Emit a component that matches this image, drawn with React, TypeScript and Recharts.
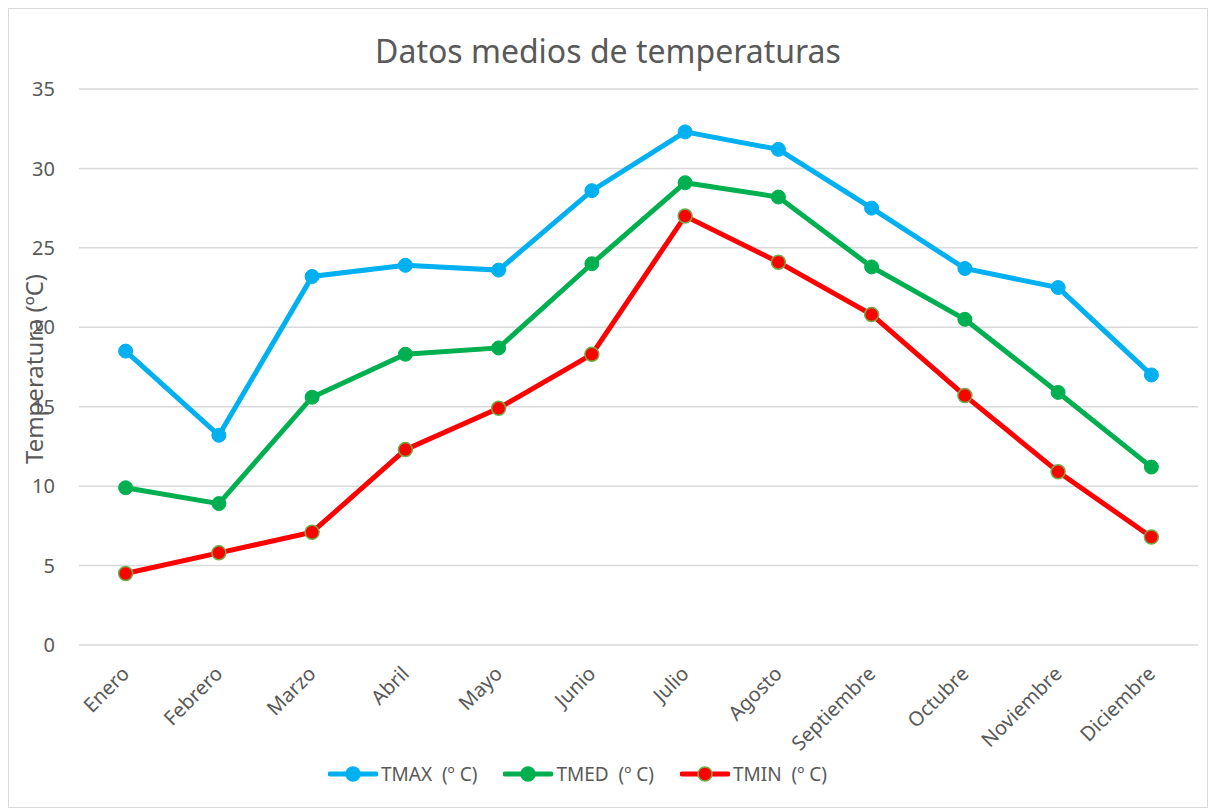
import React from 'react';
import { LineChart, Line, XAxis, YAxis, CartesianGrid, Legend } from 'recharts';

const months = ['Enero', 'Febrero', 'Marzo', 'Abril', 'Mayo', 'Junio', 'Julio', 'Agosto', 'Septiembre', 'Octubre', 'Noviembre', 'Diciembre'];
const tmax = [18.5, 13.2, 23.2, 23.9, 23.6, 28.6, 32.3, 31.2, 27.5, 23.7, 22.5, 17.0];
const tmed = [9.9, 8.9, 15.6, 18.3, 18.7, 24.0, 29.1, 28.2, 23.8, 20.5, 15.9, 11.2];
const tmin = [4.5, 5.8, 7.1, 12.3, 14.9, 18.3, 27.0, 24.1, 20.8, 15.7, 10.9, 6.8];
const yTicks = [0, 5, 10, 15, 20, 25, 30, 35];
const seriesNames = ['TMAX  (º C)', 'TMED  (º C)', 'TMIN  (º C)'];

const data = months.map((m, i) => ({ mes: m, tmax: tmax[i], tmed: tmed[i], tmin: tmin[i] }));

const FONT = '"Noto Sans", "Open Sans", sans-serif';
const TXT = '#595959';
const C_MAX = '#00b0f0';
const C_MED = '#00b050';
const C_MIN = '#ff0000';
const C_MIN_STROKE = '#70ad47';

const XTick = (props: any) => {
  const { x, y, payload } = props;
  const tx = x + 5;
  const ty = y + 22;
  return (
    <text x={tx} y={ty} transform={`rotate(-45, ${tx}, ${ty})`} textAnchor="end" fill={TXT} fontSize={20} fontFamily={FONT}>
      {payload.value}
    </text>
  );
};

const legendItems = [
  { name: seriesNames[0], color: C_MAX, fill: C_MAX, stroke: C_MAX },
  { name: seriesNames[1], color: C_MED, fill: C_MED, stroke: C_MED },
  { name: seriesNames[2], color: C_MIN, fill: C_MIN, stroke: C_MIN_STROKE },
];

const LegendContent = () => (
  <div style={{ display: 'flex', justifyContent: 'center', alignItems: 'center', gap: 26, paddingRight: 52, fontFamily: FONT, fontSize: 19, color: TXT }}>
    {legendItems.map((it) => (
      <div key={it.name} style={{ display: 'flex', alignItems: 'center' }}>
        <svg width={50} height={20} style={{ marginRight: 3 }}>
          <line x1={2} y1={10} x2={48} y2={10} stroke={it.color} strokeWidth={5} strokeLinecap="round" />
          <circle cx={25} cy={10} r={7} fill={it.fill} stroke={it.stroke} strokeWidth={1.5} />
        </svg>
        <span style={{ whiteSpace: 'pre' }}>{it.name}</span>
      </div>
    ))}
  </div>
);

export default function App() {
  return (
    <div style={{ position: 'relative', width: 1198, height: 798, border: '1px solid #d9d9d9', background: '#fff' }}>
      <div style={{ position: 'absolute', left: 0, width: 1198, top: 20, textAlign: 'center', fontFamily: FONT, fontSize: 32, color: TXT }}>
        Datos medios de temperaturas
      </div>
      <div style={{ position: 'absolute', left: 24, top: 360, width: 0, height: 0 }}>
        <div style={{ position: 'absolute', transform: 'translate(-50%, -50%) rotate(-90deg)', whiteSpace: 'nowrap', fontFamily: FONT, fontSize: 24, color: TXT }}>
          Temperatura (ºC)
        </div>
      </div>
      <LineChart width={1198} height={798} data={data} margin={{ top: 80, right: 9, bottom: 20, left: 0 }}>
        <CartesianGrid vertical={false} stroke="#d9d9d9" strokeWidth={1.5} />
        <XAxis dataKey="mes" scale="band" axisLine={false} tickLine={false} interval={0} height={116} tick={<XTick />} />
        <YAxis domain={[0, 35]} ticks={yTicks} width={70} axisLine={false} tickLine={false} tickMargin={18}
          tick={{ fill: TXT, fontSize: 20, fontFamily: FONT }} />
        <Legend verticalAlign="bottom" content={<LegendContent />} />
        <Line dataKey="tmax" name={seriesNames[0]} stroke={C_MAX} strokeWidth={5} isAnimationActive={false}
          dot={{ r: 7, fill: C_MAX, stroke: C_MAX, strokeWidth: 1 }} activeDot={false} />
        <Line dataKey="tmed" name={seriesNames[1]} stroke={C_MED} strokeWidth={5} isAnimationActive={false}
          dot={{ r: 7, fill: C_MED, stroke: C_MED, strokeWidth: 1 }} activeDot={false} />
        <Line dataKey="tmin" name={seriesNames[2]} stroke={C_MIN} strokeWidth={5} isAnimationActive={false}
          dot={{ r: 7, fill: C_MIN, stroke: C_MIN_STROKE, strokeWidth: 1.5 }} activeDot={false} />
      </LineChart>
    </div>
  );
}
